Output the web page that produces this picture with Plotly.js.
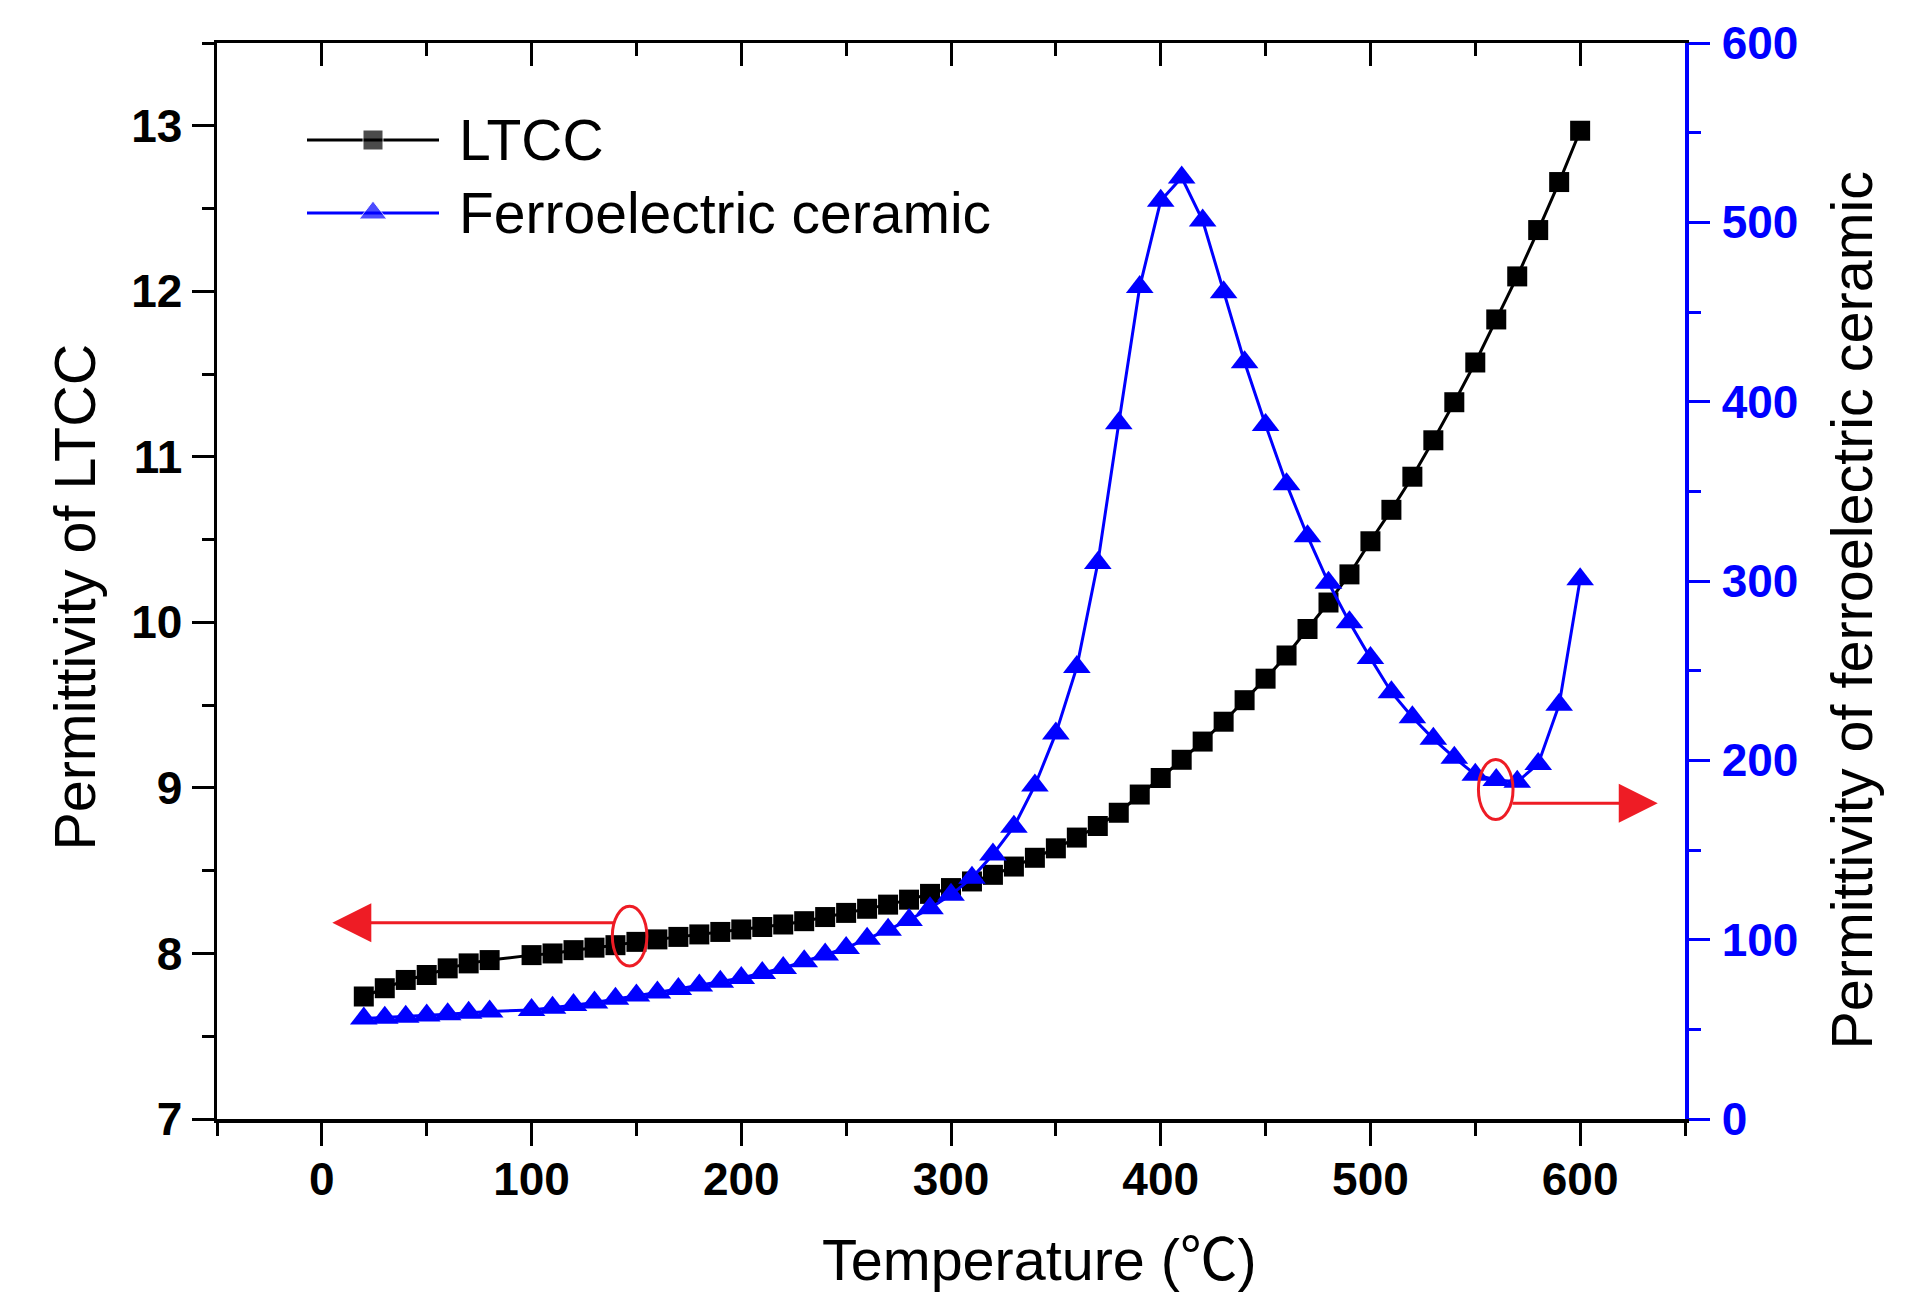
<!DOCTYPE html>
<html>
<head>
<meta charset="utf-8">
<script src="https://cdn.plot.ly/plotly-3.0.1.min.js"></script>
<style>
  html, body { margin: 0; padding: 0; background: #ffffff; }
  #chart { width: 1912px; height: 1316px; }
</style>
</head>
<body>
<div id="chart"></div>
<script>
// Permittivity vs temperature: LTCC (left axis) and ferroelectric ceramic (right axis)

const temperature = [
    20, 30, 40, 50, 60, 70, 80,
    100, 110, 120, 130, 140, 150, 160, 170, 180, 190, 200,
    210, 220, 230, 240, 250, 260, 270, 280, 290, 300,
    310, 320, 330, 340, 350, 360, 370, 380, 390, 400,
    410, 420, 430, 440, 450, 460, 470, 480, 490, 500,
    510, 520, 530, 540, 550, 560, 570, 580, 590, 600
];

const ltcc = [
    7.74, 7.79, 7.84, 7.87, 7.91, 7.94, 7.96,
    7.99, 8.00, 8.02, 8.035, 8.05, 8.07, 8.085, 8.10, 8.115, 8.13, 8.145,
    8.16, 8.175, 8.195, 8.22, 8.245, 8.27, 8.295, 8.325, 8.36, 8.395,
    8.435, 8.475, 8.525, 8.578, 8.635, 8.70, 8.77, 8.85, 8.96, 9.06,
    9.17, 9.28, 9.40, 9.53, 9.66, 9.80, 9.96, 10.12, 10.29, 10.49,
    10.68, 10.88, 11.10, 11.33, 11.57, 11.83, 12.09, 12.37, 12.66, 12.97
];

const ferro = [
    56, 56.5, 57, 57.7, 58.4, 59.2, 60,
    60.8, 62, 63.5, 65, 67, 68.8, 70.5, 72.5, 74.5, 76.5, 78.6,
    81.4, 84.2, 87.9, 91.7, 95.4, 100.5, 105.5, 111, 117.5, 125,
    134.5, 147.5, 163, 186, 215, 252, 310, 388, 464, 512,
    525, 501, 461, 422, 387, 354, 325, 299, 277, 257,
    238, 224, 212, 201.5, 192, 189, 188, 198, 231, 301
];

const seriesNames = ["LTCC", "Ferroelectric ceramic"];
const axisTitles = {
    x: "Temperature (<span style=\"font-family:'Noto Sans CJK SC'\">℃</span>)",
    y: "Permittivity of LTCC",
    y2: "Permittivity of ferroelectric ceramic"
};

const BLACK = "#000000";
const BLUE = "#0000FF";
const RED = "#EE1C25";
const FONT = "Arial, 'Liberation Sans', 'Noto Sans CJK SC', sans-serif";

const W = 1912, H = 1316;
const M = { l: 217, r: 227, t: 43, b: 197 };

const tickFont = { family: FONT, size: 46, color: BLACK, weight: "bold" };
const titleFont = { family: FONT, size: 57.5, color: BLACK };

const SQ = 20, TRI = 24;

// hidden overlay axes measured in page pixels, used for legend samples
const legendRows = [140, 213];
const legendLine = [307, 373, 439];

const traces = [
    {
        x: temperature, y: ltcc,
        type: "scatter", mode: "lines+markers",
        line: { color: BLACK, width: 3 },
        marker: { symbol: "square", size: SQ, color: BLACK },
        showlegend: false, hoverinfo: "skip"
    },
    {
        x: temperature, y: ferro, yaxis: "y2",
        type: "scatter", mode: "lines+markers",
        line: { color: BLUE, width: 3 },
        marker: { symbol: "triangle-up", size: TRI, color: BLUE },
        showlegend: false, hoverinfo: "skip"
    },
    // empty trace so the mirrored top axis gets drawn
    { x: [], y: [], xaxis: "x2", yaxis: "y", type: "scatter", mode: "lines", showlegend: false }
];

[BLACK, BLUE].forEach(function (c, i) {
    traces.push({
        x: legendLine,
        y: legendLine.map(function () { return legendRows[i]; }),
        xaxis: "x3", yaxis: "y3",
        type: "scatter", mode: "lines+markers",
        line: { color: c, width: 3 },
        marker: {
            symbol: i === 0 ? "square" : "triangle-up",
            size: [0, i === 0 ? SQ : TRI, 0],
            color: c
        },
        showlegend: false, hoverinfo: "skip"
    });
});

const baseX = {
    range: [-50, 650],
    tick0: 0, dtick: 100,
    showline: true, linewidth: 3.5, linecolor: BLACK,
    ticks: "outside", ticklen: 23, tickwidth: 3, tickcolor: BLACK,
    minor: { dtick: 50, ticks: "outside", ticklen: 13, tickwidth: 3, tickcolor: BLACK, showgrid: false },
    showgrid: false, zeroline: false, fixedrange: true
};

function titleNote(text, x, y, angle) {
    return {
        xref: "paper", yref: "paper", x: x, y: y,
        text: text, showarrow: false, textangle: angle,
        xanchor: "center", yanchor: "middle",
        font: titleFont
    };
}

const layout = {
    width: W, height: H,
    margin: M,
    paper_bgcolor: "#ffffff",
    plot_bgcolor: "rgba(0,0,0,0)",
    showlegend: false,
    xaxis: Object.assign({}, baseX, {
        tickfont: tickFont,
        ticklabelstandoff: -6
    }),
    xaxis2: Object.assign({}, baseX, {
        overlaying: "x", side: "top", anchor: "y",
        ticks: "inside",
        minor: { dtick: 50, ticks: "inside", ticklen: 13, tickwidth: 3, tickcolor: BLACK, showgrid: false },
        showticklabels: false
    }),
    xaxis3: { overlaying: "x", range: [M.l, W - M.r], visible: false, fixedrange: true },
    yaxis: {
        range: [7, 13.5],
        tick0: 7, dtick: 1,
        showline: true, linewidth: 3.5, linecolor: BLACK,
        ticks: "outside", ticklen: 22, tickwidth: 3, tickcolor: BLACK,
        minor: { dtick: 0.5, ticks: "outside", ticklen: 12, tickwidth: 3, tickcolor: BLACK, showgrid: false },
        tickfont: tickFont,
        ticklabelstandoff: 0,
        showgrid: false, zeroline: false, fixedrange: true
    },
    yaxis2: {
        overlaying: "y", side: "right", anchor: "x",
        range: [0, 600],
        tick0: 0, dtick: 100,
        showline: true, linewidth: 3.5, linecolor: BLUE,
        ticks: "outside", ticklen: 21, tickwidth: 3, tickcolor: BLUE,
        minor: { dtick: 50, ticks: "outside", ticklen: 12, tickwidth: 3, tickcolor: BLUE, showgrid: false },
        tickfont: { family: FONT, size: 46, color: BLUE, weight: "bold" },
        ticklabelstandoff: 3,
        showgrid: false, zeroline: false, fixedrange: true
    },
    yaxis3: { overlaying: "y", range: [H - M.b, M.t], visible: false, fixedrange: true },
    shapes: [
        {
            type: "circle", xref: "x", yref: "y",
            x0: 138.5, x1: 155, y0: 7.925, y1: 8.285,
            line: { color: RED, width: 3 }
        },
        {
            type: "circle", xref: "x", yref: "y2",
            x0: 551.5, x1: 568, y0: 167, y1: 200.5,
            line: { color: RED, width: 3 }
        }
    ],
    annotations: [
        {
            x: 5, y: 8.185, xref: "x", yref: "y",
            ax: 140, ay: 8.185, axref: "x", ayref: "y",
            text: "", showarrow: true,
            arrowhead: 2, arrowsize: 2.6, arrowwidth: 3, arrowcolor: RED
        },
        {
            x: 637, y: 176, xref: "x", yref: "y2",
            ax: 567, ay: 176, axref: "x", ayref: "y2",
            text: "", showarrow: true,
            arrowhead: 2, arrowsize: 2.6, arrowwidth: 3, arrowcolor: RED
        },
        titleNote(axisTitles.x, 0.560, -0.1264, 0),
        titleNote(axisTitles.y, -0.0964, 0.485, -90),
        titleNote(axisTitles.y2, 1.1138, 0.4726, -90)
    ].concat(seriesNames.map(function (name, i) {
        return {
            x: 457, y: legendRows[i], xref: "x3", yref: "y3",
            text: name, showarrow: false,
            xanchor: "left", yanchor: "middle",
            font: { family: FONT, size: 57, color: BLACK }
        };
    }))
};

Plotly.newPlot("chart", traces, layout, { displayModeBar: false, staticPlot: true });
</script>
</body>
</html>
